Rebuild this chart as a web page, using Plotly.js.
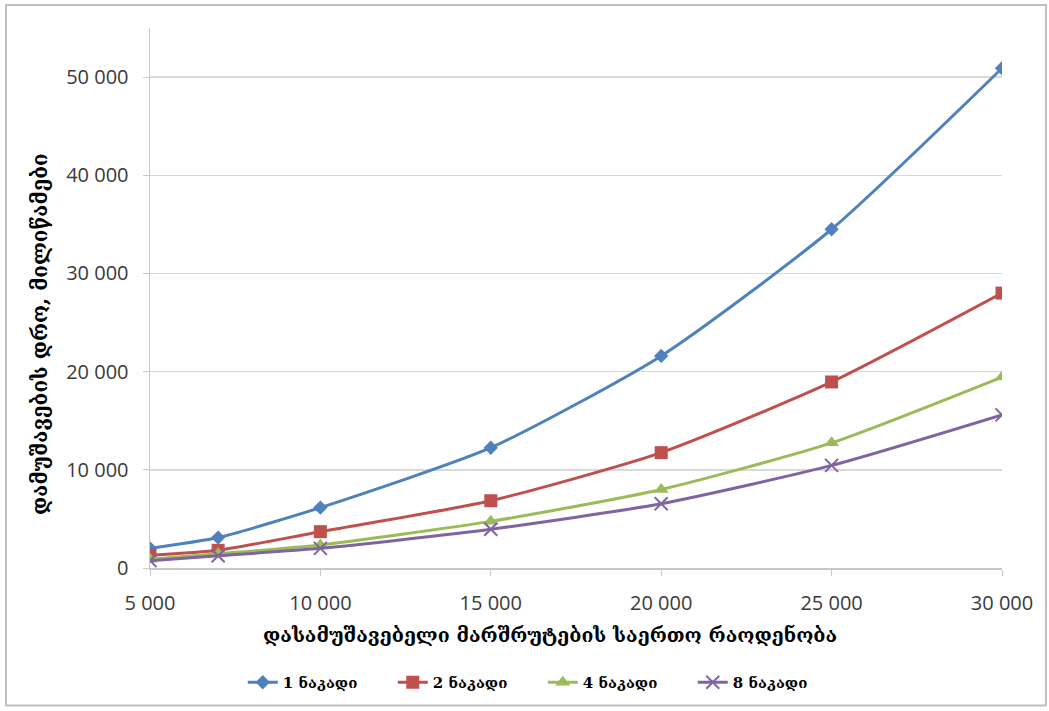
<!DOCTYPE html>
<html>
<head>
<meta charset="utf-8">
<script src="https://cdn.plot.ly/plotly-3.0.1.min.js"></script>
<style>html,body{margin:0;padding:0;background:#fff;}#chart{width:1049px;height:711px;}</style>
</head>
<body>
<div id="chart"></div>
<script>
const routes = [5000, 7000, 10000, 15000, 20000, 25000, 30000];
const flow1 = [2000, 3100, 6150, 12250, 21600, 34500, 50900];
const flow2 = [1300, 1800, 3700, 6850, 11750, 18950, 28000];
const flow4 = [900, 1450, 2350, 4750, 8000, 12750, 19450];
const flow8 = [750, 1250, 2000, 3950, 6550, 10450, 15600];
const seriesNames = ["1 ნაკადი", "2 ნაკადი", "4 ნაკადი", "8 ნაკადი"];
const xTicks = [5000, 10000, 15000, 20000, 25000, 30000];
const yTicks = [0, 10000, 20000, 30000, 40000, 50000];
const xTitle = "დასამუშავებელი მარშრუტების საერთო რაოდენობა";
const yTitle = "დამუშავების დრო, მილიწამები";

const colors = ["#4F81BD", "#C0504D", "#9BBB59", "#8064A2"];
const symbols = ["diamond", "square", "triangle-up", "x-thin-open"];
const sizes = [11, 13, 13, 13];
const allY = [flow1, flow2, flow4, flow8];

const traces = allY.map((ys, i) => ({
  x: routes, y: ys, name: seriesNames[i], type: "scatter", mode: "lines+markers",
  line: {color: colors[i], width: 3, shape: "spline", smoothing: 0.6},
  marker: {symbol: symbols[i], size: sizes[i], color: colors[i],
           line: {color: colors[i], width: i === 3 ? 2 : 0}}
}));

const serif = "'DejaVu Serif', 'Liberation Serif', serif";
const tickFont = {family: "'Open Sans', sans-serif", size: 20, color: "#3A3A3A"};
const layout = {
  width: 1049, height: 711,
  margin: {l: 150, r: 47, t: 28, b: 141},
  paper_bgcolor: "#fff", plot_bgcolor: "#fff",
  separators: ". ",
  showlegend: true,
  legend: {orientation: "h", x: 0.461, xanchor: "center", y: -0.212, yanchor: "middle",
           font: {family: serif, size: 15, color: "#000", weight: "bold"},
           entrywidth: 105, tracegroupgap: 0},
  xaxis: {range: [5000, 30000], tickvals: xTicks, tickformat: ",d",
          showgrid: false, zeroline: false, showline: true, linecolor: "#C8C8C8", linewidth: 1.5,
          ticks: "outside", ticklen: 6, tickcolor: "#C8C8C8", ticklabelstandoff: 10,
          tickfont: tickFont},
  yaxis: {range: [0, 55000], tickvals: yTicks, tickformat: ",d",
          showgrid: true, gridcolor: "#D9D9D9", gridwidth: 1.5, zeroline: false,
          showline: true, linecolor: "#C8C8C8", linewidth: 1.5,
          ticks: "outside", ticklen: 6, tickcolor: "#C8C8C8", ticklabelstandoff: 10,
          tickfont: tickFont},
  annotations: [
    {text: xTitle, xref: "paper", yref: "paper", x: 0.469, y: -0.125, showarrow: false,
     xanchor: "center", yanchor: "middle", font: {family: serif, size: 19.5, color: "#000", weight: "bold"}},
    {text: yTitle, xref: "paper", yref: "paper", x: -0.13, y: 0.434, showarrow: false, textangle: -90,
     xanchor: "center", yanchor: "middle", font: {family: serif, size: 20.5, color: "#000", weight: "bold"}}
  ],
  shapes: [
    {type: "rect", xref: "paper", yref: "paper", x0: -0.169, x1: 1.0516, y0: -0.2546, y1: 1.0424,
     line: {color: "#BFBFBF", width: 2}, fillcolor: "rgba(0,0,0,0)", layer: "below"}
  ]
};
Plotly.newPlot("chart", traces, layout, {displayModeBar: false, staticPlot: true});
</script>
</body>
</html>
